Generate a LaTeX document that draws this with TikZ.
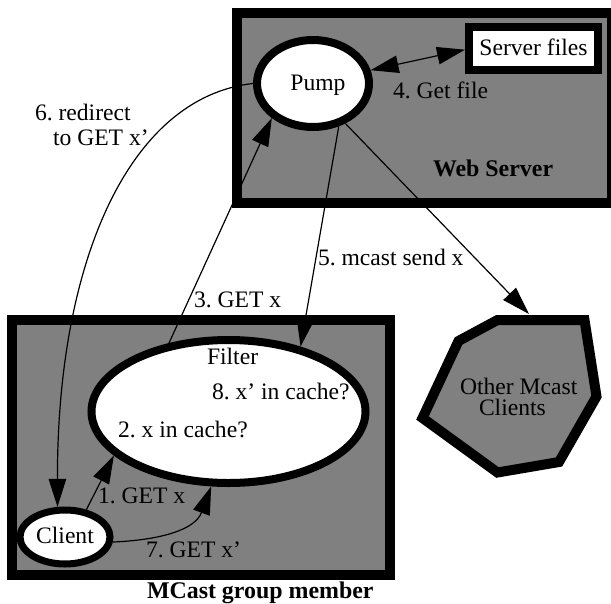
\documentclass[tikz,border=0pt]{standalone}
\usepackage{fontspec}
\setmainfont{Liberation Serif}
\frenchspacing
\usetikzlibrary{arrows.meta,shapes.geometric}
\tikzset{
  lbl/.style={anchor=base west,inner sep=0pt,outer sep=0pt},
  boldlbl/.style={lbl,font=\fontsize{23.9}{25}\selectfont\bfseries},
  bigbox/.style={draw=black,fill=black!50,line width=10pt,rectangle,inner sep=0pt},
  whiteell/.style={draw=black,fill=white,ellipse,inner sep=0pt,line width=8pt},
  conn/.style={draw=black,line width=1.2pt,-{Triangle[length=28pt,width=17.5pt]}},
  bothconn/.style={draw=black,line width=1.2pt,{Triangle[length=28pt,width=17.5pt]}-{Triangle[length=28pt,width=17.5pt]}},
}
\begin{document}
\begin{tikzpicture}[x=1pt,y=-1pt,font=\fontsize{23.6}{25}\selectfont]
\useasboundingbox (0,0) rectangle (611,603);
\clip (0,0) rectangle (611,603);
\node[bigbox,minimum width=375pt,minimum height=190pt] (web) at (424.5,108) {};
\node[bigbox,minimum width=378pt,minimum height=255pt] (member) at (201,447.5) {};
\path[draw=black,fill=black!50,line width=10pt,miter limit=10]
  (497.5,320) -- (584.5,320) -- (596.5,396.5) -- (559,462) -- (497.5,472.5) -- (422.5,418) -- (458.5,341) -- cycle;
\coordinate (others) at (529,314);
\node[draw=black,fill=white,line width=8pt,inner sep=0pt,minimum width=129pt,minimum height=43pt,text height=13pt,text depth=0pt] (sf) at (533.5,48.5) {Server files};
\node[whiteell,minimum width=112pt,minimum height=87pt,text height=13pt,text depth=0pt] (pump) at (313,83.5) {\hspace*{10pt}Pump};
\node[whiteell,minimum width=274pt,minimum height=143pt] (filter) at (228.5,411.5) {};
\node[whiteell,line width=7pt,minimum width=90pt,minimum height=54pt,text height=12pt,text depth=0pt] (client) at (65,537) {Client};
\draw[conn] (pump.180) .. controls (130,97) and (57,260) .. (client.104.5);
\draw[conn] (filter.131) -- (pump.220);
\draw[bothconn] (pump.13) -- (sf.181.3);
\draw[conn] (pump.301.8) -- (filter.42.9);
\draw[conn] (pump.309) -- (others);
\draw[conn] (client.52.8) -- (filter.201.7);
\draw[conn] (client.354) .. controls (160,540) and (195,530) .. (filter.257.8);
\node[lbl] (t6a) at (35,120) {6. redirect};
\node[lbl] (t6b) at (53,145) {to GET x’};
\node[lbl] (t4) at (393,98) {4. Get file};
\node[boldlbl] (tw) at (433,176) {Web Server};
\node[lbl] (t5) at (318,265) {5. mcast send x};
\node[lbl] (t3) at (194,307) {3. GET x};
\node[lbl] (tf) at (207,364) {Filter};
\node[lbl] (t8) at (212,399) {8. x’ in cache?};
\node[lbl] (t2) at (118,437) {2. x in cache?};
\node[lbl] (t1) at (98,503) {1. GET x};
\node[lbl] (t7) at (146,557) {7. GET x’};
\node[boldlbl] (tm) at (147,598) {MCast group member};
\node[lbl,align=left,font=\fontsize{23.6}{21}\selectfont] (to1) at (460,415) {Other Mcast\\\hspace*{19pt}Clients};
\end{tikzpicture}
\end{document}
